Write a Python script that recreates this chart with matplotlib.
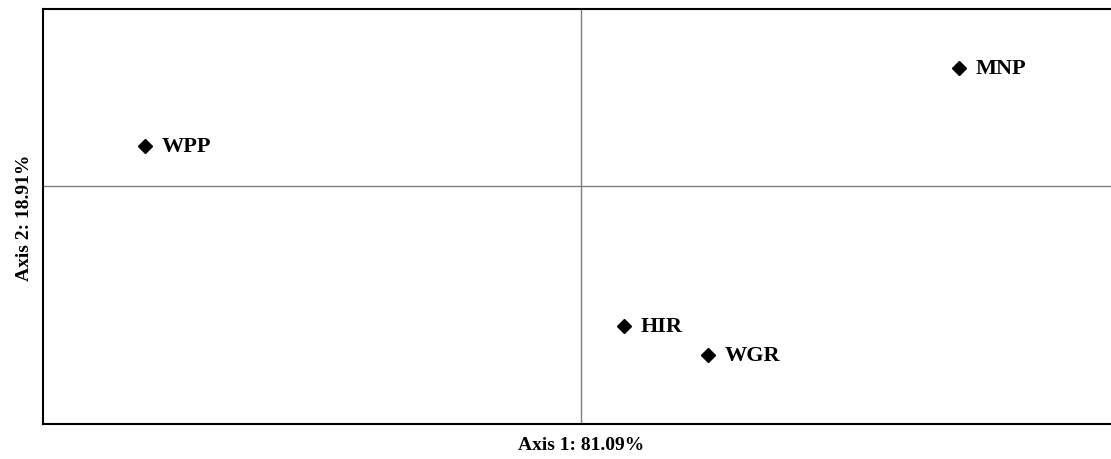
import matplotlib.pyplot as plt

plt.rcParams['font.family'] = ['Liberation Serif', 'DejaVu Serif']

# ordination scores on the first two axes
sites = ["WPP", "MNP", "HIR", "WGR"]
axis1 = [-0.81, 0.703, 0.080, 0.236]
axis2 = [0.168, 0.496, -0.588, -0.710]

fig = plt.figure(figsize=(11.11, 4.6), dpi=100)
ax = fig.add_axes([43 / 1111, 35 / 460, 1076 / 1111, 415 / 460])

ax.axvline(0, color="#7f7f7f", lw=1.0, zorder=1)
ax.axhline(0, color="#7f7f7f", lw=1.0, zorder=1)

ax.plot(axis1, axis2, "D", color="black", markersize=7, linestyle="none", zorder=3)
for name, x, y in zip(sites, axis1, axis2):
    ax.annotate(name, (x, y), xytext=(12, 0), textcoords="offset points",
                va="center", ha="left", fontsize=16, fontweight="bold")

ax.set_xlim(-1, 1)
ax.set_ylim(-1, 177 / 238)
ax.set_xticks([])
ax.set_yticks([])
ax.spines["right"].set_visible(False)
for s in ("left", "top", "bottom"):
    ax.spines[s].set_linewidth(1.5)

ax.set_xlabel("Axis 1: 81.09%", fontsize=14, fontweight="bold", labelpad=9)
ax.set_ylabel("Axis 2: 18.91%", fontsize=14, fontweight="bold", labelpad=7)

fig.savefig("out.png", dpi=100)
